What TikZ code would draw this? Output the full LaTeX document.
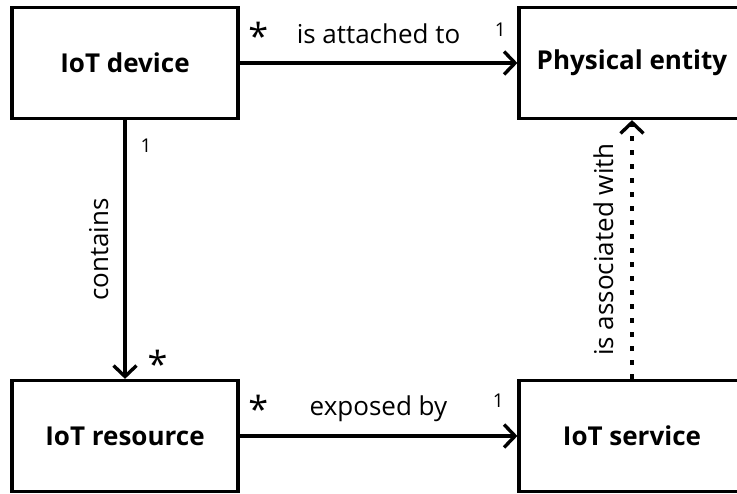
\documentclass[tikz,border=0pt]{standalone}
\usepackage{fontspec}
\setmainfont[Numbers=Lining]{Open Sans}
\usetikzlibrary{arrows.meta}

\tikzset{
  entitybox/.style={draw,line width=3.2pt,minimum width=226pt,minimum height=111pt,
    font=\fontsize{26}{30}\selectfont\bfseries},
  relation/.style={line width=3.4pt,-{Straight Barb[length=11pt,width=23pt,line width=3.4pt]}},
  weakrelation/.style={relation,dash pattern=on 5pt off 9pt},
  rellabel/.style={font=\fontsize{26}{30}\selectfont,inner sep=0pt},
  multlabel/.style={font=\fontsize{19}{22}\selectfont,inner sep=0pt},
  manylabel/.style={font=\fontsize{36}{40}\selectfont,inner sep=0pt},
}

\begin{document}
\begin{tikzpicture}[x=1pt,y=-1pt]
\path[use as bounding box] (0,0) rectangle (737,494);
\fill[white] (0,0) rectangle (737,494);
\clip (0,0) rectangle (737,494);

% the four entities
\node[entitybox] (device)   at (125,63)  {IoT device};
\node[entitybox] (entity)   at (632,63)  {Physical entity};
\node[entitybox] (resource) at (125,436) {IoT resource};
\node[entitybox] (service)  at (632,436) {IoT service};

% associations
\draw[relation] (device) --
  node[rellabel,midway,anchor=base,yshift=19pt] {is attached to}
  node[manylabel,pos=0,anchor=base west,xshift=7pt,yshift=13pt] {*}
  node[multlabel,pos=1,anchor=base east,xshift=-10pt,yshift=26pt] {1} (entity);
\draw[relation] (device) --
  node[rellabel,midway,xshift=-17pt,rotate=90,anchor=base] {contains}
  node[multlabel,pos=0,anchor=base west,xshift=14pt,yshift=-32pt] {1}
  node[manylabel,pos=1,anchor=base west,xshift=21pt,yshift=1pt] {*} (resource);
\draw[relation] (resource) --
  node[rellabel,midway,anchor=base,yshift=20pt] {exposed by}
  node[manylabel,pos=0,anchor=base west,xshift=7pt,yshift=13pt] {*}
  node[multlabel,pos=1,anchor=base east,xshift=-12pt,yshift=28pt] {1} (service);
\draw[weakrelation] (service) --
  node[rellabel,midway,xshift=-19pt,rotate=90,anchor=base] {is associated with} (entity);
\end{tikzpicture}
\end{document}
